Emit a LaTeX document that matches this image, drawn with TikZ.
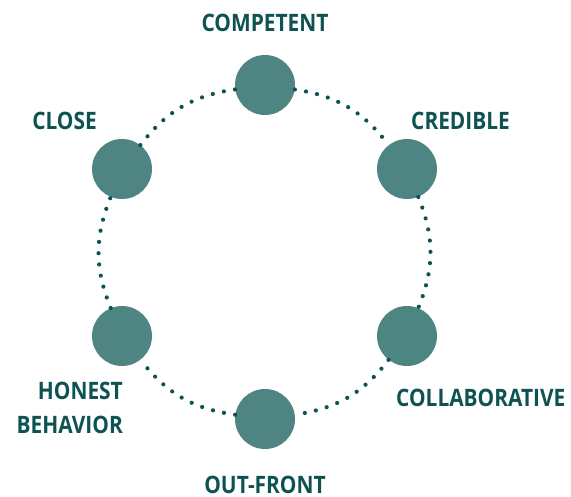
\documentclass[tikz,border=0pt]{standalone}
\usepackage{fontspec}
\setmainfont{Open Sans}[FakeStretch=0.87]
\definecolor{tealfill}{HTML}{4E8583}
\definecolor{tealtext}{HTML}{0E5252}
\begin{document}
\begin{tikzpicture}[x=1pt,y=1pt,
  pt/.style={circle,fill=tealfill,minimum size=60pt,inner sep=0pt},
  lbl/.style={inner sep=0pt,text=tealtext,font=\fontsize{24}{34}\selectfont\bfseries},
  dotline/.style={draw=tealtext,line width=4.2pt,line cap=round,dash pattern=on 0pt off 11.3pt}]
\useasboundingbox (0,0) rectangle (571,496);
\node[pt] (competent) at (265,411) {};
\node[pt] (credible) at (407,327) {};
\node[pt] (collab) at (407,160) {};
\node[pt] (outfront) at (265,77) {};
\node[pt] (honest) at (122,160) {};
\node[pt] (close) at (122,327) {};
\foreach \a/\b in {competent/credible,credible/collab,collab/outfront,outfront/honest,honest/close,close/competent}
  \draw[dotline] (\a) to[bend left=22] (\b);
\node[lbl,anchor=base] (tcompetent) at (265,464) {COMPETENT};
\node[lbl,anchor=base west] (tcredible) at (411,366) {CREDIBLE};
\node[lbl,anchor=base east] (tclose) at (97,366) {CLOSE};
\node[lbl,anchor=base west] (tcollab) at (396,89) {COLLABORATIVE};
\node[lbl,anchor=base east,align=right] (thonest) at (123,63) {HONEST\\BEHAVIOR};
\node[lbl,anchor=base] (toutfront) at (265,2) {OUT-FRONT};
\end{tikzpicture}
\end{document}
